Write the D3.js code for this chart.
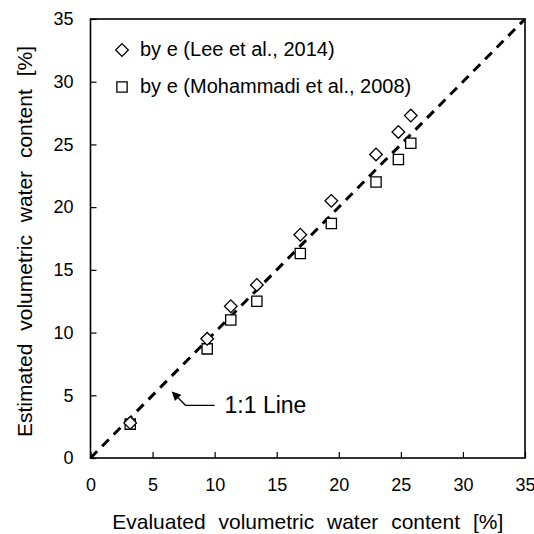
<!DOCTYPE html>
<html>
<head>
<meta charset="utf-8">
<script src="https://cdn.jsdelivr.net/npm/d3@7"></script>
<style>
  html, body { margin: 0; padding: 0; background: #fff; }
  svg { display: block; }
  text { font-family: Arial, "Liberation Sans", sans-serif; fill: #000; }
</style>
</head>
<body>
<div id="chart"></div>
<script>
// Evaluated vs. estimated volumetric water content [%]
const evaluated = [3.2, 9.4, 11.3, 13.4, 16.9, 19.4, 23.0, 24.8, 25.8];
const leeEstimated = [2.8, 9.5, 12.1, 13.8, 17.8, 20.5, 24.2, 26.0, 27.3];
const mohammadiEstimated = [2.7, 8.7, 11.0, 12.5, 16.3, 18.7, 22.0, 23.8, 25.1];
const seriesNames = ["by e (Lee et al., 2014)", "by e (Mohammadi et al., 2008)"];
const tickValues = [0, 5, 10, 15, 20, 25, 30, 35];
const axisDomain = [0, 35];
const lineLabel = "1:1 Line";
const xTitle = "Evaluated volumetric water content [%]";
const yTitle = "Estimated volumetric water content [%]";

const W = 534, H = 534;
const margin = { left: 90.5, right: 9, top: 19, bottom: 76 };

const svg = d3.select("#chart").append("svg")
  .attr("width", W).attr("height", H);

const x = d3.scaleLinear().domain(axisDomain).range([margin.left, W - margin.right]);
const y = d3.scaleLinear().domain(axisDomain).range([H - margin.bottom, margin.top]);

// 1:1 reference line
svg.append("line")
  .attr("x1", x(0)).attr("y1", y(0))
  .attr("x2", x(35)).attr("y2", y(35))
  .attr("stroke", "#000").attr("stroke-width", 3)
  .attr("stroke-dasharray", "9.5,7");

// Axes with inward ticks
const xAxis = d3.axisBottom(x).tickValues(tickValues).tickSize(-6).tickPadding(20);
const yAxis = d3.axisLeft(y).tickValues(tickValues).tickSize(-6).tickPadding(17);

const gx = svg.append("g").attr("transform", `translate(0,${y(0)})`).call(xAxis);
const gy = svg.append("g").attr("transform", `translate(${x(0)},0)`).call(yAxis);
[gx, gy].forEach(g => {
  g.select(".domain").remove();
  g.selectAll(".tick line").attr("stroke", "#000").attr("stroke-width", 1.2);
  g.selectAll(".tick text").attr("font-size", 18).attr("fill", "#000")
    .attr("font-family", "Arial, 'Liberation Sans', sans-serif");
});
gx.selectAll(".tick text").attr("dy", "0.71em");

// Plot frame
svg.append("rect")
  .attr("x", x(0)).attr("y", y(35))
  .attr("width", x(35) - x(0)).attr("height", y(0) - y(35))
  .attr("fill", "none").attr("stroke", "#000").attr("stroke-width", 1.6);

// Markers
const diamond = d3.symbol().type(d3.symbolSquare).size(80);
const square = d3.symbol().type(d3.symbolSquare).size(105);

svg.append("g").selectAll("path")
  .data(evaluated.map((v, i) => [v, mohammadiEstimated[i]]))
  .join("path")
  .attr("d", square)
  .attr("transform", d => `translate(${x(d[0])},${y(d[1])})`)
  .attr("fill", "#fff").attr("stroke", "#000").attr("stroke-width", 1.3);

svg.append("g").selectAll("path")
  .data(evaluated.map((v, i) => [v, leeEstimated[i]]))
  .join("path")
  .attr("d", diamond)
  .attr("transform", d => `translate(${x(d[0])},${y(d[1])}) rotate(45)`)
  .attr("fill", "#fff").attr("stroke", "#000").attr("stroke-width", 1.3);

// Legend
const legend = svg.append("g");
const legendRows = [
  { name: seriesNames[0], sym: diamond, rot: 45, yy: 50 },
  { name: seriesNames[1], sym: square, rot: 0, yy: 87 }
];
legendRows.forEach(r => {
  legend.append("path").attr("d", r.sym)
    .attr("transform", `translate(122,${r.yy}) rotate(${r.rot})`)
    .attr("fill", "#fff").attr("stroke", "#000").attr("stroke-width", 1.3);
  legend.append("text").attr("x", 140).attr("y", r.yy).attr("dy", "0.3em")
    .attr("font-size", 20).text(r.name);
});

// "1:1 Line" callout with arrow
svg.append("defs").append("marker")
  .attr("id", "arrow").attr("viewBox", "0 0 10 10")
  .attr("refX", 9).attr("refY", 5)
  .attr("markerWidth", 11).attr("markerHeight", 9)
  .attr("markerUnits", "userSpaceOnUse")
  .attr("orient", "auto")
  .append("path").attr("d", "M0,0 L10,5 L0,10 Z").attr("fill", "#000");

const tip = [6.6, 5.25], elbow = [7.65, 4.2], tail = [10.0, 4.2];
svg.append("path")
  .attr("d", d3.line()([[x(tail[0]), y(tail[1])], [x(elbow[0]), y(elbow[1])], [x(tip[0]), y(tip[1])]]))
  .attr("fill", "none").attr("stroke", "#000").attr("stroke-width", 1.3)
  .attr("marker-end", "url(#arrow)");
svg.append("text").attr("x", x(10.8)).attr("y", y(4.2)).attr("dy", "0.35em")
  .attr("font-size", 23).text(lineLabel);

// Axis titles
svg.append("text")
  .attr("x", (x(0) + x(35)) / 2).attr("y", 522).attr("dy", "0.35em")
  .attr("text-anchor", "middle").attr("font-size", 21).attr("word-spacing", 7)
  .text(xTitle);
svg.append("text")
  .attr("transform", `translate(25,${(y(0) + y(35)) / 2 + 3}) rotate(-90)`)
  .attr("dy", "0.35em")
  .attr("text-anchor", "middle").attr("font-size", 21).attr("word-spacing", 7)
  .text(yTitle);
</script>
</body>
</html>
